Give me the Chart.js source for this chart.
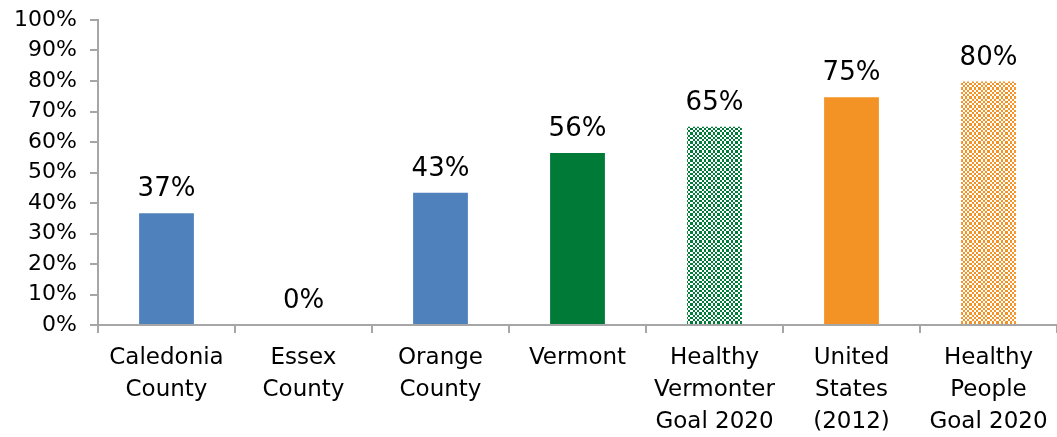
<!DOCTYPE html>
<html><head><meta charset="utf-8">
<script src="https://cdn.jsdelivr.net/npm/chart.js@4"></script>
<style>html,body{margin:0;padding:0;background:#fff;overflow:hidden}#w{width:1057px;height:437px}</style>
</head><body><div id="w"><canvas id="c"></canvas></div>
<script>
const categories = [["Caledonia","County"],["Essex","County"],["Orange","County"],["Vermont"],["Healthy","Vermonter","Goal 2020"],["United","States","(2012)"],["Healthy","People","Goal 2020"]];
const values = [36.6, 0, 43.4, 56.4, 65, 74.7, 79.8];
const valueLabels = ["37%","0%","43%","56%","65%","75%","80%"];
const yTicks = [0,10,20,30,40,50,60,70,80,90,100];
const FONT = "DejaVu Sans";

function checker(color){
  const w=[2,2,2,3];const T=9;
  const c=document.createElement('canvas');c.width=T;c.height=T;
  const x=c.getContext('2d');x.fillStyle='#fff';x.fillRect(0,0,T,T);
  x.fillStyle=color;
  let py=0;
  for(let r=0;r<4;r++){let px=0;for(let k=0;k<4;k++){if((r+k)%2===0)x.fillRect(px,py,w[k],w[r]);px+=w[k];}py+=w[r];}
  return x.createPattern(c,'repeat');
}
const blue='#4F81BD', green='#007A37', orange='#F39325';
const fills=[blue,blue,blue,green,checker(green),orange,checker(orange)];

const labelPlugin={id:'vl',afterDatasetsDraw(chart){
  const ctx=chart.ctx;const meta=chart.getDatasetMeta(0);
  ctx.save();ctx.font='26px "'+FONT+'"';ctx.fillStyle='#000';ctx.textAlign='center';ctx.textBaseline='alphabetic';
  meta.data.forEach((b,i)=>{ctx.fillText(valueLabels[i],b.x,b.y-17);});
  ctx.restore();}};

new Chart(document.getElementById('c'),{
  type:'bar',
  data:{labels:categories,datasets:[{data:values,backgroundColor:fills,barPercentage:0.4,categoryPercentage:1}]},
  options:{responsive:true,maintainAspectRatio:false,animation:false,
    layout:{padding:{top:20,right:0,left:0,bottom:0}},
    plugins:{legend:{display:false},tooltip:{enabled:false}},
    scales:{
      x:{grid:{display:true,drawOnChartArea:false,tickLength:8,color:'#A6A6A6',lineWidth:2,offset:true},
         border:{color:'#A6A6A6',width:2},
         ticks:{color:'#000',font:{family:FONT,size:23,lineHeight:1.4},padding:9,maxRotation:0,autoSkip:false},
         afterFit(s){s.height=112;}},
      y:{min:0,max:100,
         afterBuildTicks(s){s.ticks=yTicks.map(v=>({value:v}));},
         grid:{display:true,drawOnChartArea:false,tickLength:8,color:'#A6A6A6',lineWidth:2},
         border:{color:'#A6A6A6',width:2},
         ticks:{color:'#000',font:{family:FONT,size:22},padding:13,callback:v=>v+'%'},
         afterFit(s){s.width=98;s.paddingTop=0;}}
    }},
  plugins:[labelPlugin]
});
</script></body></html>
